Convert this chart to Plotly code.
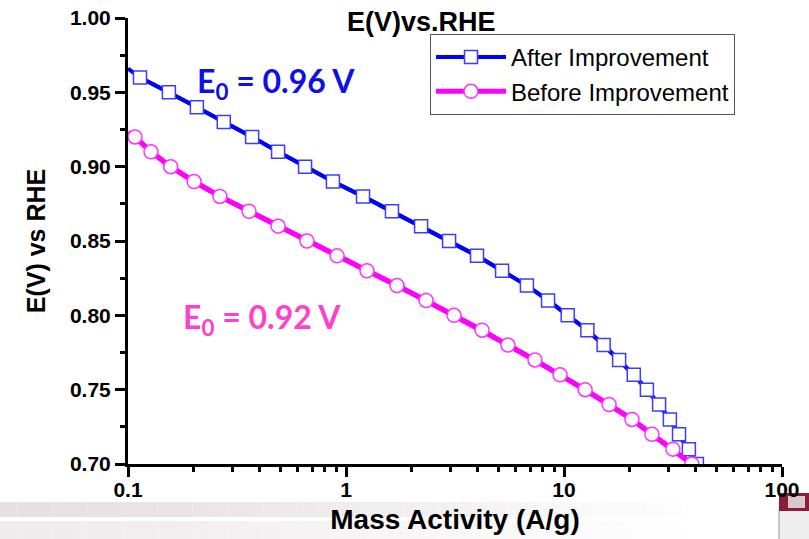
import plotly.graph_objects as go

# Mass activity (A/g) at each potential step
potential_after = [0.96, 0.95, 0.94, 0.93, 0.92, 0.91, 0.90, 0.89, 0.88, 0.87, 0.86, 0.85, 0.84,
                   0.83, 0.82, 0.81, 0.80, 0.79, 0.78, 0.77, 0.76, 0.75, 0.74, 0.73, 0.72, 0.71, 0.70]
activity_after = [0.1135, 0.154, 0.207, 0.275, 0.371, 0.488, 0.649, 0.871, 1.197, 1.625, 2.21, 2.97, 3.99,
                  5.20, 6.76, 8.45, 10.4, 12.8, 15.2, 17.9, 20.9, 24.0, 27.3, 30.6, 33.7, 37.4, 40.7]

potential_before = [0.92, 0.91, 0.90, 0.89, 0.88, 0.87, 0.86, 0.85, 0.84, 0.83, 0.82, 0.81,
                    0.80, 0.79, 0.78, 0.77, 0.76, 0.75, 0.74, 0.73, 0.72, 0.71, 0.70]
activity_before = [0.1077, 0.1275, 0.157, 0.201, 0.264, 0.359, 0.488, 0.662, 0.910, 1.248, 1.713, 2.33,
                   3.13, 4.21, 5.53, 7.36, 9.59, 12.5, 16.1, 20.5, 25.3, 31.6, 38.6]

# Curve start at the left edge of the axis
start_activity = 0.1
start_after = 0.966
start_before = 0.923

x_tick_vals = [0.1, 1, 10, 100]
x_tick_text = ["0.1", "1", "10", "100"]
x_minor_vals = [m * 10 ** d for d in (-1, 0, 1) for m in range(2, 10)]
y_tick_vals = [0.70, 0.75, 0.80, 0.85, 0.90, 0.95, 1.00]

BLUE = "#0000ff"
MAGENTA = "#ff00ff"
SANS = "Liberation Sans, Arial, sans-serif"

fig = go.Figure()

# continuous curves (no markers), starting from the axis
fig.add_trace(go.Scatter(x=[start_activity] + activity_after, y=[start_after] + potential_after,
                         mode="lines", line=dict(color=BLUE, width=4), showlegend=False,
                         hoverinfo="skip"))
fig.add_trace(go.Scatter(x=[start_activity] + activity_before, y=[start_before] + potential_before,
                         mode="lines", line=dict(color=MAGENTA, width=5), showlegend=False,
                         hoverinfo="skip"))

# marked points
fig.add_trace(go.Scatter(x=activity_after, y=potential_after, mode="lines+markers",
                         name="After Improvement",
                         line=dict(color=BLUE, width=4),
                         marker=dict(symbol="square", size=13, color="white",
                                     line=dict(color="#3c3cff", width=1.5))))
fig.add_trace(go.Scatter(x=activity_before, y=potential_before, mode="lines+markers",
                         name="Before Improvement",
                         line=dict(color=MAGENTA, width=5),
                         marker=dict(symbol="circle", size=14, color="white",
                                     line=dict(color="#ff33ff", width=1.5))))

L, R, T, B = 128, 27, 18, 75
W, H = 809, 539
pw, ph = W - L - R, H - T - B


def px_x(px):
    return (px - L) / pw


def px_y(py):
    return (H - B - py) / ph


shapes = []
# soft grey banner along the bottom, fading to the right
n = 40
for i in range(n):
    x0 = i * 700 / n
    x1 = (i + 1) * 700 / n
    t = i / (n - 1)
    c1 = [int(232 + (255 - 232) * t ** 1.3), int(223 + (255 - 223) * t ** 1.3), int(227 + (255 - 227) * t ** 1.3)]
    c2 = [int(240 + (255 - 240) * t ** 1.1), int(235 + (255 - 235) * t ** 1.1), int(237 + (255 - 237) * t ** 1.1)]
    shapes.append(dict(type="rect", xref="paper", yref="paper", layer="below",
                       x0=px_x(x0), x1=px_x(x1), y0=px_y(517), y1=px_y(502),
                       fillcolor="rgb(%d,%d,%d)" % tuple(c1), line=dict(width=0)))
    shapes.append(dict(type="rect", xref="paper", yref="paper", layer="below",
                       x0=px_x(x0), x1=px_x(x1), y0=px_y(540), y1=px_y(521),
                       fillcolor="rgb(%d,%d,%d)" % tuple(c2), line=dict(width=0)))
# crest in the lower-right corner
shapes.append(dict(type="rect", xref="paper", yref="paper", layer="below",
                   x0=px_x(779), x1=px_x(812), y0=px_y(541), y1=px_y(510),
                   fillcolor="#eeeeee", line=dict(color="#9a9a9a", width=1)))
shapes.append(dict(type="rect", xref="paper", yref="paper", layer="below",
                   x0=px_x(779), x1=px_x(812), y0=px_y(511), y1=px_y(493),
                   fillcolor="#8c1c3c", line=dict(width=0)))
shapes.append(dict(type="rect", xref="paper", yref="paper", layer="below",
                   x0=px_x(788), x1=px_x(805), y0=px_y(508), y1=px_y(496),
                   fillcolor="#d8c8cc", line=dict(width=0)))

annotations = [
    dict(text="E(V)vs.RHE", xref="paper", yref="paper", x=px_x(421), y=px_y(22),
         xanchor="center", yanchor="middle", showarrow=False,
         font=dict(family=SANS, size=27, color="black", weight="bold")),
    dict(text="E<sub>0</sub> = 0.96 V", xref="paper", yref="paper", x=px_x(195), y=px_y(83),
         xanchor="left", yanchor="middle", showarrow=False,
         font=dict(family="Lato, Open Sans", size=32, color="#0f0fe8", weight="bold")),
    dict(text="E<sub>0</sub> = 0.92 V", xref="paper", yref="paper", x=px_x(181), y=px_y(319),
         xanchor="left", yanchor="middle", showarrow=False,
         font=dict(family="Lato, Open Sans", size=32, color="#ff40c8", weight="bold")),
]

fig.update_layout(
    width=W, height=H,
    margin=dict(l=L, r=R, t=T, b=B, autoexpand=False),
    paper_bgcolor="white", plot_bgcolor="white",
    font=dict(family=SANS, color="black"),
    showlegend=True,
    legend=dict(x=px_x(430), y=px_y(34), xanchor="left", yanchor="top",
                bgcolor="white", bordercolor="#555555", borderwidth=1,
                font=dict(family=SANS, size=24, color="black"),
                tracegroupgap=0, itemwidth=70),
    shapes=shapes,
    annotations=annotations,
)

fig.update_xaxes(
    type="log", range=[-1, 2], automargin=False,
    tickvals=x_tick_vals, ticktext=x_tick_text,
    ticks="outside", ticklen=10, tickwidth=3, tickcolor="black",
    ticklabelstandoff=-5,
    minor=dict(tickvals=x_minor_vals, ticks="outside", ticklen=5, tickwidth=3,
               tickcolor="black", showgrid=False),
    showline=True, linewidth=3, linecolor="black", mirror=False,
    showgrid=False, zeroline=False,
    tickfont=dict(family=SANS, size=21, color="black", weight="bold"),
    title=dict(text="Mass Activity (A/g)", standoff=10,
               font=dict(family=SANS, size=28, color="black", weight="bold")),
)

fig.update_yaxes(
    range=[0.70, 1.00], automargin=False,
    tickvals=y_tick_vals, tickformat=".2f",
    ticks="outside", ticklen=10, tickwidth=3, tickcolor="black",
    minor=dict(dtick=0.025, tick0=0.70, ticks="outside", ticklen=5, tickwidth=3,
               tickcolor="black", showgrid=False),
    showline=True, linewidth=3, linecolor="black", mirror=False,
    showgrid=False, zeroline=False,
    tickfont=dict(family=SANS, size=21, color="black", weight="bold"),
    title=dict(text="E(V) vs RHE", standoff=18,
               font=dict(family=SANS, size=25, color="black", weight="bold")),
)

fig.write_html("out.html")
